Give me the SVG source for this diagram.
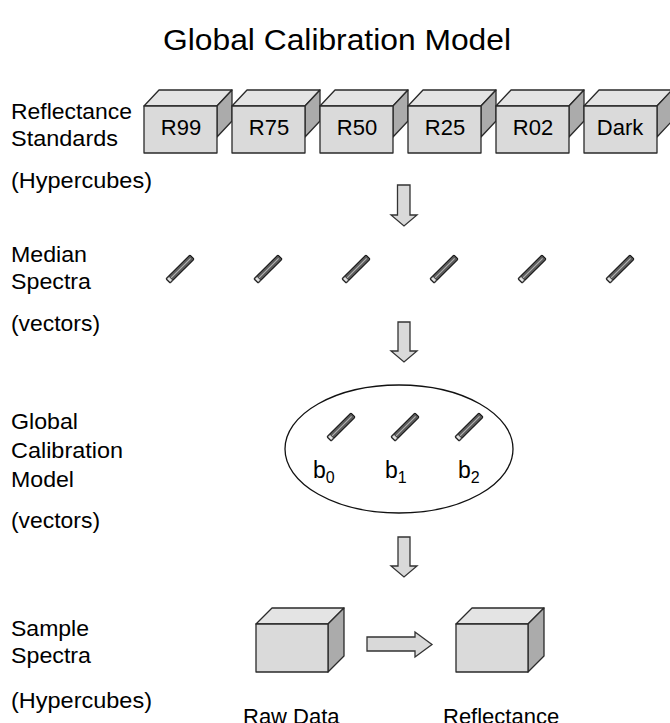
<svg xmlns="http://www.w3.org/2000/svg" width="670" height="723" viewBox="0 0 670 723">
<style>
  text { font-family: "Liberation Sans", Arial, sans-serif; fill: #000; }
  .title { font-size: 30px; }
  .lbl { font-size: 22px; }
  .box { font-size: 22px; text-anchor: middle; }
  .front { fill: #dadada; stroke: #2a2a2a; stroke-width: 1.3; stroke-linejoin: round; }
  .top { fill: #e4e4e4; stroke: #2a2a2a; stroke-width: 1.3; stroke-linejoin: round; }
  .side { fill: #ababab; stroke: #2a2a2a; stroke-width: 1.3; stroke-linejoin: round; }
  .arrow { fill: #d9d9d9; stroke: #333; stroke-width: 1.3; stroke-linejoin: miter; }
  .ell { fill: none; stroke: #111; stroke-width: 1.3; }
</style>
<defs>
  <g id="cube">
    <polygon class="top" points="0,16 15,0 88,0 73,16"/>
    <polygon class="side" points="73,16 88,0 88,31 73,47"/>
    <rect class="front" x="0" y="16" width="73" height="47"/>
  </g>
  <g id="bigcube">
    <polygon class="top" points="0,16 16,0 88,0 72,16"/>
    <polygon class="side" points="72,16 88,0 88,48 72,64"/>
    <rect class="front" x="0" y="16" width="72" height="48"/>
  </g>
  <g id="vec">
    <rect x="0" y="-3" width="34" height="6" rx="1" fill="#5a5a5a" stroke="#111" stroke-width="1"/>
    <line x1="4" y1="0" x2="32" y2="0" stroke="#b0b0b0" stroke-width="1.2"/>
    <rect x="0.5" y="-2.5" width="3.5" height="5" fill="#e0e0e0" stroke="#222" stroke-width="0.8"/>
  </g>
</defs>

<text class="title" x="163" y="50" textLength="348" lengthAdjust="spacingAndGlyphs">Global Calibration Model</text>

<g id="row-labels">
  <text class="lbl" x="11" y="119" textLength="121" lengthAdjust="spacingAndGlyphs">Reflectance</text>
  <text class="lbl" x="11" y="146" textLength="107" lengthAdjust="spacingAndGlyphs">Standards</text>
  <text class="lbl" x="11" y="188" textLength="141" lengthAdjust="spacingAndGlyphs">(Hypercubes)</text>
  <text class="lbl" x="11" y="262" textLength="76" lengthAdjust="spacingAndGlyphs">Median</text>
  <text class="lbl" x="11" y="289" textLength="80" lengthAdjust="spacingAndGlyphs">Spectra</text>
  <text class="lbl" x="11" y="331" textLength="89" lengthAdjust="spacingAndGlyphs">(vectors)</text>
  <text class="lbl" x="11" y="429" textLength="67" lengthAdjust="spacingAndGlyphs">Global</text>
  <text class="lbl" x="11" y="458" textLength="112" lengthAdjust="spacingAndGlyphs">Calibration</text>
  <text class="lbl" x="11" y="487" textLength="63" lengthAdjust="spacingAndGlyphs">Model</text>
  <text class="lbl" x="11" y="528" textLength="89" lengthAdjust="spacingAndGlyphs">(vectors)</text>
  <text class="lbl" x="11" y="636" textLength="78" lengthAdjust="spacingAndGlyphs">Sample</text>
  <text class="lbl" x="11" y="663" textLength="80" lengthAdjust="spacingAndGlyphs">Spectra</text>
  <text class="lbl" x="11" y="708" textLength="141" lengthAdjust="spacingAndGlyphs">(Hypercubes)</text>
</g>

<g id="std-R99"><use href="#cube" x="144" y="90"/><text class="box" x="181" y="135">R99</text></g>
<g id="std-R75"><use href="#cube" x="232" y="90"/><text class="box" x="269" y="135">R75</text></g>
<g id="std-R50"><use href="#cube" x="320" y="90"/><text class="box" x="357" y="135">R50</text></g>
<g id="std-R25"><use href="#cube" x="408" y="90"/><text class="box" x="445" y="135">R25</text></g>
<g id="std-R02"><use href="#cube" x="496" y="90"/><text class="box" x="533" y="135">R02</text></g>
<g id="std-Dark"><use href="#cube" x="584" y="90"/><text class="box" x="620" y="135">Dark</text></g>

<g id="median-spectra">
  <use href="#vec" transform="translate(168,281) rotate(-45)"/>
  <use href="#vec" transform="translate(256,281) rotate(-45)"/>
  <use href="#vec" transform="translate(344,281) rotate(-45)"/>
  <use href="#vec" transform="translate(432,281) rotate(-45)"/>
  <use href="#vec" transform="translate(520,281) rotate(-45)"/>
  <use href="#vec" transform="translate(608,281) rotate(-45)"/>
</g>

<g id="model">
  <ellipse class="ell" cx="399" cy="449" rx="114" ry="64"/>
  <use href="#vec" transform="translate(329,439) rotate(-45)"/>
  <use href="#vec" transform="translate(393,439) rotate(-45)"/>
  <use href="#vec" transform="translate(457,439) rotate(-45)"/>
  <text style="font-size:23px" x="313" y="478">b<tspan style="font-size:16px" dy="5">0</tspan></text>
  <text style="font-size:23px" x="385" y="478">b<tspan style="font-size:16px" dy="5">1</tspan></text>
  <text style="font-size:23px" x="458" y="478">b<tspan style="font-size:16px" dy="5">2</tspan></text>
</g>

<g id="raw-data"><use href="#bigcube" x="256" y="608"/><text class="lbl" x="243" y="724">Raw Data</text></g>
<g id="reflectance"><use href="#bigcube" x="456" y="608"/><text class="lbl" x="443" y="724">Reflectance</text></g>

<g id="connectors">
  <polygon class="arrow" points="397.5,185 410,185 410,215 417,215 404,226 391,215 397.5,215"/>
  <polygon class="arrow" points="398,322 410,322 410,351 417,351 404,362 391,351 398,351"/>
  <polygon class="arrow" points="398,537 410,537 410,566 417,566 404,577 391,566 398,566"/>
  <polygon class="arrow" points="367,637 415,637 415,632 432,644.5 415,657 415,651 367,651"/>
</g>
</svg>
